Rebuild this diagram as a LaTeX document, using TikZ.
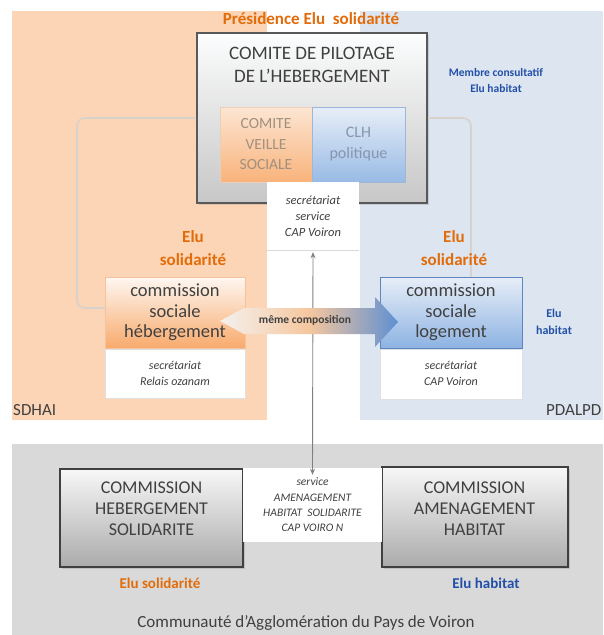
\documentclass[tikz,border=0pt]{standalone}
\usepackage{fontspec}
\setmainfont{Carlito}
\usetikzlibrary{shadows,arrows.meta}

\definecolor{zoneor}{HTML}{FBD5B5}
\definecolor{zonebl}{HTML}{DCE5F0}
\definecolor{zonegr}{HTML}{D9D9D9}
\definecolor{txt}{HTML}{404040}
\definecolor{elor}{HTML}{E36C0A}
\definecolor{elbl}{HTML}{2250A8}
\definecolor{frame}{HTML}{595959}
\definecolor{orlight}{HTML}{FDEBDD}
\definecolor{ordeep}{HTML}{F8AA6C}
\definecolor{orframe}{HTML}{F4C29C}
\definecolor{bllight}{HTML}{E8EEF8}
\definecolor{bldeep}{HTML}{8DB3E2}
\definecolor{blframe}{HTML}{5B86BF}
\definecolor{loopgray}{HTML}{D8D2CD}
\definecolor{veilletxt}{HTML}{A0907F}
\definecolor{clhtxt}{HTML}{8796AE}
\definecolor{arrL}{HTML}{F4F1EE}
\definecolor{arrM}{HTML}{F6C79E}
\definecolor{arrR}{HTML}{5E90D2}

\tikzset{
  fs/.style n args={2}{font=\fontsize{#1}{#2}\selectfont},
  fsi/.style n args={2}{font=\fontsize{#1}{#2}\selectfont\itshape},
  fsb/.style n args={2}{font=\fontsize{#1}{#2}\selectfont\bfseries},
  boxbase/.style={inner sep=0pt, align=center, text=txt},
  cpbox/.style={boxbase, draw=frame, line width=2pt,
    top color=white!92!zonebl, bottom color=black!22,
    drop shadow={opacity=0.25, shadow xshift=2pt, shadow yshift=-2pt}},
  veillebox/.style={boxbase, draw=ordeep!80!black!40, line width=0.8pt,
    top color=zoneor!60, bottom color=ordeep!90, text=veilletxt},
  clhbox/.style={boxbase, draw=blframe!60, line width=0.8pt,
    top color=bllight, bottom color=bldeep!90, text=clhtxt},
  whitebox/.style={boxbase, fill=white},
  orhead/.style={boxbase, draw=orframe, line width=1pt,
    top color=orlight!40, bottom color=ordeep},
  blhead/.style={boxbase, draw=blframe, line width=1pt,
    top color=bllight, bottom color=bldeep},
  subbox/.style={boxbase, fill=white, draw=black!12, line width=0.6pt},
  bigbox/.style={boxbase, draw=black!75, line width=2pt,
    top color=white!97!black, bottom color=black!33,
    drop shadow={opacity=0.3, shadow xshift=2pt, shadow yshift=-2pt}},
  orlabel/.style={text=elor, align=center},
  bllabel/.style={text=elbl, align=center},
  loopline/.style={draw=loopgray, line width=1.6pt, rounded corners=8pt},
  linkline/.style={draw=black!50, line width=0.9pt,
    {Stealth[length=6pt,width=5pt]}-{Stealth[length=6pt,width=5pt]}},
}

\begin{document}
\begin{tikzpicture}[x=1pt,y=-1pt]
\useasboundingbox (0,0) rectangle (603,635);
\fill[white] (0,0) rectangle (603,635);

% scheme zones
\fill[zoneor] (12,11) rectangle (267,420);
\fill[zonebl] (360,11) rectangle (603,420);
\fill[zonegr] (12,444) rectangle (603,635);

% steering committee
\node[cpbox, minimum width=230pt, minimum height=170pt] (cp) at (312,118) {};
\node[boxbase, fs={19}{23}] (cptitle) at (312,64.5) {COMITE DE PILOTAGE\\DE L'HEBERGEMENT};
\node[veillebox, fs={15.5}{20.5}, minimum width=92pt, minimum height=75pt] (cvs) at (266,144.5) {COMITE\\VEILLE\\SOCIALE};
\node[clhbox, fs={16}{21}, minimum width=93pt, minimum height=75pt] (clh) at (358.5,144.5) {CLH\\politique};
\node[whitebox, fsi={12.5}{16}, minimum width=92pt, minimum height=68pt] (sec) at (313,216) {secrétariat\\service\\CAP Voiron};
\draw[black!15, line width=0.6pt] (sec.south west) -- (sec.south east);

% social commissions
\node[orhead, fs={18.5}{20.5}, minimum width=140pt, minimum height=71pt] (csh) at (175,312.5) {commission\\sociale\\hébergement};
\node[subbox, fsi={12}{16}, minimum width=140pt, minimum height=49pt, anchor=north] (cshsec) at (csh.south) {secrétariat\\Relais ozanam};
\node[blhead, fs={18.5}{20.5}, minimum width=142pt, minimum height=71pt] (csl) at (451,312.5) {commission\\sociale\\logement};
\node[subbox, fsi={12}{16}, minimum width=142pt, minimum height=50pt, anchor=north] (cslsec) at (csl.south) {secrétariat\\CAP Voiron};

% feedback loops to the steering committee
\draw[loopline] (cp.west |- 0,118) -- (77,118) -- (77,308) -- (csh.west |- 0,308);
\draw[loopline] (cp.east |- 0,118) -- (471,118) -- (csl.north -| 471,0);

% agglomeration commissions
\node[bigbox, minimum width=183pt, minimum height=98pt] (chs) at (151.5,518) {};
\node[boxbase, fs={18}{21}] (chstxt) at (151.5,509) {COMMISSION\\HEBERGEMENT\\SOLIDARITE};
\node[bigbox, minimum width=186pt, minimum height=100pt] (cah) at (474.5,517) {};
\node[boxbase, fs={18}{21}] (cahtxt) at (474.5,509) {COMMISSION\\AMENAGEMENT\\HABITAT};
\node[whitebox, fsi={11.5}{15.3}, minimum width=139pt, minimum height=74pt] (bsec) at (312.5,505) {service\\AMENAGEMENT\\HABITAT\ \ SOLIDARITE\\CAP VOIRO N};

% link between the two secretariats
\draw[linkline] ([yshift=-7pt]bsec.north) -- ([yshift=-2pt]sec.south);

% same membership arrow
\path[left color=arrL, right color=arrR, middle color=arrM]
  (220,321) -- (244,308) -- (375,308) -- (375,297) -- (398,322)
  -- (375,347) -- (375,334) -- (244,334) -- cycle;
\node[boxbase, fsb={11.5}{13}] (same) at (305,320.5) {même composition};

% labels
\node[orlabel, fsb={17}{20}] (pres) at (311,19) {Présidence Elu\ \ solidarité};
\node[bllabel, fsb={11.5}{16}] (memb) at (496,80) {Membre consultatif\\Elu habitat};
\node[orlabel, fsb={17}{23}] (elu1) at (193,248.5) {Elu\\solidarité};
\node[orlabel, fsb={17}{23}] (elu2) at (454,248.5) {Elu\\solidarité};
\node[bllabel, fsb={12}{17}] (elu3) at (554,321.5) {Elu\\habitat};
\node[boxbase, fs={17}{20}, anchor=west] (sdhai) at (13,410) {SDHAI};
\node[boxbase, fs={17}{20}, anchor=west] (pdalpd) at (546,410) {PDALPD};
\node[orlabel, fsb={15}{18}] (elu4) at (160,583) {Elu solidarité};
\node[bllabel, fsb={15}{18}] (elu5) at (486,583) {Elu habitat};
\node[boxbase, fs={17}{20}] (capv) at (306,623) {Communauté d'Agglomération du Pays de Voiron};
\end{tikzpicture}
\end{document}
